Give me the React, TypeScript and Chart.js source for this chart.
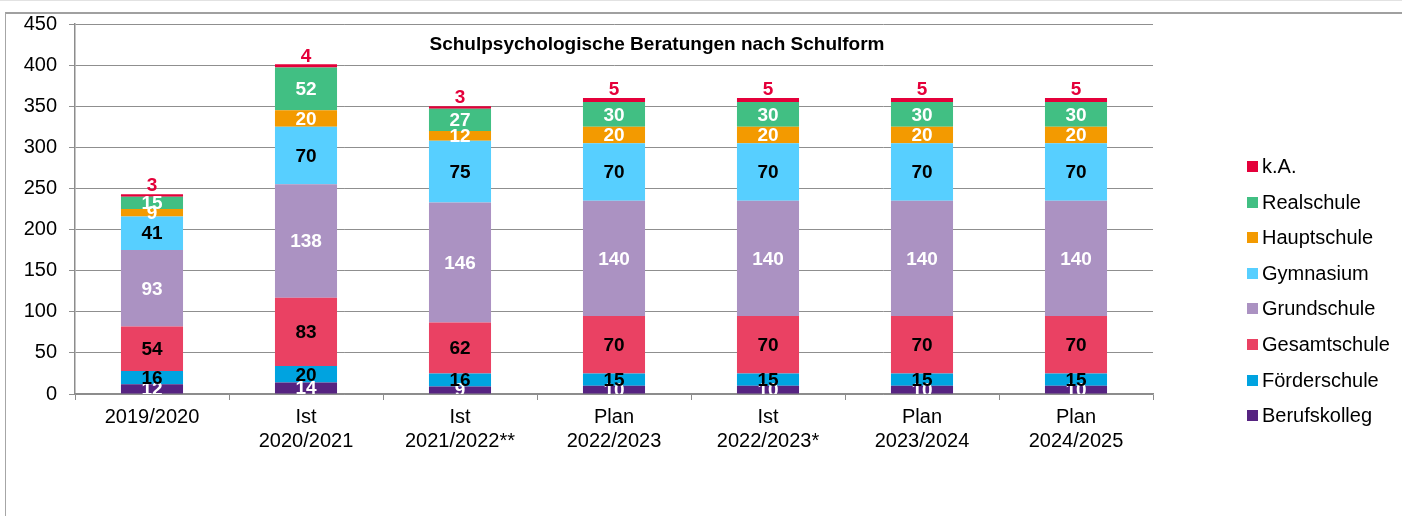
import React, { useEffect, useRef } from "react";
import { Chart, registerables } from "chart.js";

Chart.register(...registerables);

const categories: string[][] = [
  ["2019/2020"],
  ["Ist", "2020/2021"],
  ["Ist", "2021/2022**"],
  ["Plan", "2022/2023"],
  ["Ist", "2022/2023*"],
  ["Plan", "2023/2024"],
  ["Plan", "2024/2025"],
];

const berufskolleg = [12, 14, 9, 10, 10, 10, 10];
const foerderschule = [16, 20, 16, 15, 15, 15, 15];
const gesamtschule = [54, 83, 62, 70, 70, 70, 70];
const grundschule = [93, 138, 146, 140, 140, 140, 140];
const gymnasium = [41, 70, 75, 70, 70, 70, 70];
const hauptschule = [9, 20, 12, 20, 20, 20, 20];
const realschule = [15, 52, 27, 30, 30, 30, 30];
const keineAngabe = [3, 4, 3, 5, 5, 5, 5];

const yTicks = [0, 50, 100, 150, 200, 250, 300, 350, 400, 450];

const TITLE = "Schulpsychologische Beratungen nach Schulform";
const FONT = "'Liberation Sans', Arial, Helvetica, sans-serif";

type Series = { label: string; data: number[]; color: string; labelColor: string; above?: boolean };

const series: Series[] = [
  { label: "Berufskolleg", data: berufskolleg, color: "#562381", labelColor: "#ffffff" },
  { label: "Förderschule", data: foerderschule, color: "#00A3E0", labelColor: "#000000" },
  { label: "Gesamtschule", data: gesamtschule, color: "#EA4163", labelColor: "#000000" },
  { label: "Grundschule", data: grundschule, color: "#AB92C2", labelColor: "#ffffff" },
  { label: "Gymnasium", data: gymnasium, color: "#57CFFF", labelColor: "#000000" },
  { label: "Hauptschule", data: hauptschule, color: "#F39A00", labelColor: "#ffffff" },
  { label: "Realschule", data: realschule, color: "#41BF83", labelColor: "#ffffff" },
  { label: "k.A.", data: keineAngabe, color: "#E4003A", labelColor: "#E4003A", above: true },
];

const labelPlugin = {
  id: "segmentLabels",
  afterDatasetsDraw(chart: any) {
    const { ctx, chartArea } = chart;
    ctx.save();
    ctx.beginPath();
    ctx.rect(chartArea.left, chartArea.top, chartArea.right - chartArea.left, chartArea.bottom - chartArea.top);
    ctx.clip();
    ctx.font = `bold 19px ${FONT}`;
    ctx.textAlign = "center";
    ctx.textBaseline = "middle";
    chart.data.datasets.forEach((ds: any, di: number) => {
      const meta = chart.getDatasetMeta(di);
      const s = series[di];
      meta.data.forEach((el: any, i: number) => {
        const v = ds.data[i];
        const y = s.above ? el.y - 9 : (el.y + el.base) / 2;
        ctx.fillStyle = s.labelColor;
        ctx.fillText(String(v), el.x, y + 1);
      });
    });
    ctx.restore();
  },
};

const titlePlugin = {
  id: "innerTitle",
  afterDraw(chart: any) {
    const { ctx } = chart;
    ctx.save();
    ctx.font = `bold 19px ${FONT}`;
    ctx.fillStyle = "#000";
    ctx.textAlign = "center";
    ctx.textBaseline = "middle";
    ctx.fillText(TITLE, 657, 45);
    ctx.restore();
  },
};

const legendPlugin = {
  id: "sideLegend",
  afterDraw(chart: any) {
    const { ctx } = chart;
    ctx.save();
    ctx.font = `20px ${FONT}`;
    ctx.textBaseline = "middle";
    ctx.textAlign = "left";
    const items = [...series].reverse();
    items.forEach((s, i) => {
      const cy = 166.5 + i * 35.6;
      ctx.fillStyle = s.color;
      ctx.fillRect(1247, Math.round(cy - 5.5), 11, 11);
      ctx.fillStyle = "#000";
      ctx.fillText(s.label, 1262, cy + 1);
    });
    ctx.restore();
  },
};

export default function App() {
  const ref = useRef<HTMLCanvasElement | null>(null);

  useEffect(() => {
    if (!ref.current) return;
    const chart = new Chart(ref.current, {
      type: "bar",
      data: {
        labels: categories,
        datasets: series.map((s) => ({
          label: s.label,
          data: s.data,
          backgroundColor: s.color,
          borderWidth: 0,
          categoryPercentage: 1,
          barPercentage: 0.403,
        })),
      },
      options: {
        responsive: false,
        animation: false,
        layout: { padding: { top: 24, right: 249, left: 0, bottom: 0 } },
        plugins: {
          legend: { display: false },
          title: { display: false },
          tooltip: { enabled: false },
        },
        scales: {
          x: {
            stacked: true,
            afterFit: (scale: any) => {
              scale.height = 122;
            },
            grid: {
              display: true,
              drawOnChartArea: false,
              drawTicks: true,
              tickLength: 6,
              color: "#8c8c8c",
              offset: true,
            },
            border: { display: true, color: "#8c8c8c", width: 1.5 },
            ticks: {
              color: "#000",
              padding: 5,
              font: { family: FONT, size: 20, lineHeight: 1.2 },
              maxRotation: 0,
              autoSkip: false,
            },
          },
          y: {
            stacked: true,
            min: 0,
            max: 450,
            afterFit: (scale: any) => {
              scale.width = 75;
            },
            afterBuildTicks: (scale: any) => {
              scale.ticks = yTicks.map((v) => ({ value: v }));
            },
            grid: {
              color: "#8f8f8f",
              lineWidth: 1,
              tickLength: 6,
              drawTicks: true,
            },
            border: { display: true, color: "#8c8c8c", width: 1.5 },
            ticks: {
              color: "#000",
              padding: 12,
              font: { family: FONT, size: 20 },
            },
          },
        },
      },
      plugins: [labelPlugin, titlePlugin, legendPlugin],
    });
    return () => chart.destroy();
  }, []);

  return (
    <div style={{ position: "fixed", left: 0, top: 0, width: 1402, height: 516, background: "#fff", overflow: "hidden" }}>
      <div style={{ position: "absolute", left: 0, top: 0, width: 1402, height: 1, background: "#e2e2e2" }} />
      <div
        style={{
          position: "absolute",
          left: 5,
          top: 12,
          width: 1400,
          height: 510,
          borderLeft: "1px solid #a6a6a6",
          borderTop: "2px solid #a0a0a0",
        }}
      />
      <canvas ref={ref} width={1402} height={516} style={{ position: "absolute", left: 0, top: 0 }} />
    </div>
  );
}
